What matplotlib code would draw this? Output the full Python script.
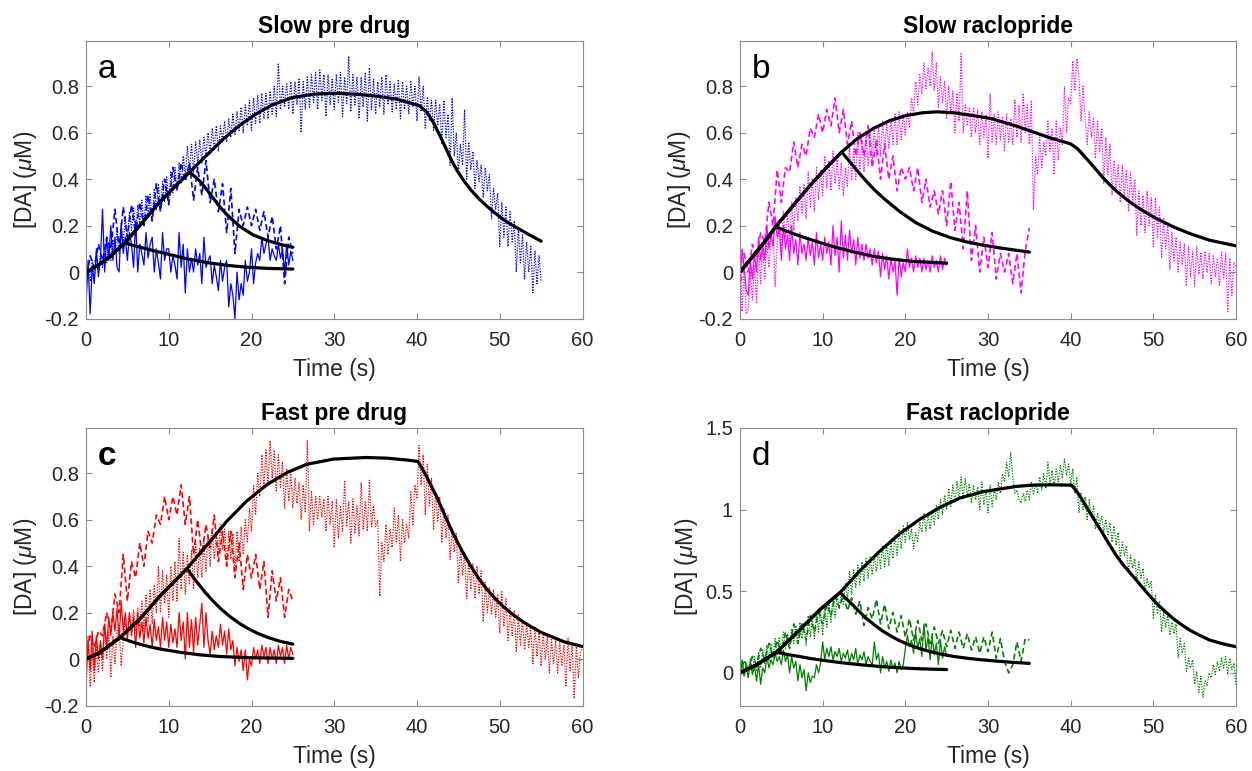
import numpy as np
import matplotlib
matplotlib.use("Agg")
import matplotlib.pyplot as plt

plt.rcParams['font.family'] = ['Liberation Sans', 'DejaVu Sans']
plt.rcParams['mathtext.fontset'] = 'custom'
plt.rcParams['mathtext.rm'] = 'Liberation Sans'
plt.rcParams['mathtext.it'] = 'Liberation Sans:italic'

DT_SOLID = 0.25
DT_DASH = 0.5
DT_DOT = 0.25

# ---------------- Panel a : Slow pre drug (blue) ----------------
A_SOLID = [-0.15, 0.05, -0.18, 0.02, -0.05, 0.10, -0.02, 0.06, 0.27, 0.00, 0.15, 0.05,
           0.20, 0.05, 0.15, 0.02, 0.00, 0.20, 0.08, 0.15, 0.05, 0.17, 0.12, 0.02,
           0.22, 0.00, 0.12, 0.08, 0.03, 0.17, 0.06, 0.12, 0.15, 0.00, 0.10, 0.04,
           -0.03, 0.17, 0.05, 0.10, 0.10, 0.00, 0.07, 0.03, -0.03, 0.17, 0.02, 0.12,
           -0.09, 0.10, 0.00, 0.06, 0.00, 0.10, 0.03, 0.08, -0.05, 0.15, 0.02, 0.05,
           0.07, -0.05, 0.03, -0.02, -0.08, 0.05, -0.04, 0.02, 0.05, -0.15, -0.05, -0.10,
           -0.20, 0.00, -0.12, -0.05, -0.10, 0.05, -0.04, 0.00, 0.10, -0.05, 0.04, 0.08,
           0.05, 0.15, 0.08, 0.12, 0.15, 0.05, 0.10, 0.07, 0.05, 0.12, 0.06, 0.10,
           0.00, 0.12, 0.03, 0.09, 0.05]
A_DASH = [-0.05, 0.07, 0.02, 0.12, 0.05, 0.15, 0.10, 0.27, 0.10, 0.28,
          0.15, 0.29, 0.16, 0.30, 0.20, 0.33, 0.22, 0.38, 0.26, 0.40,
          0.29, 0.45, 0.35, 0.47, 0.39, 0.47, 0.31, 0.45, 0.33, 0.48,
          0.30, 0.40, 0.26, 0.38, 0.17, 0.36, 0.08, 0.27, 0.20, 0.28,
          0.20, 0.27, 0.18, 0.26, 0.15, 0.24, 0.10, 0.20, -0.05, 0.15, 0.08]
A_DOT = [-0.08, 0.02, -0.04, 0.05, -0.03, 0.07, 0.00, 0.08, 0.02, 0.10, 0.04, 0.12,
         0.05, 0.14, 0.09, 0.18, 0.08, 0.21, 0.12, 0.24, 0.14, 0.26, 0.18, 0.28,
         0.16, 0.29, 0.21, 0.31, 0.20, 0.33, 0.24, 0.34, 0.22, 0.36, 0.27, 0.38,
         0.27, 0.39, 0.30, 0.41, 0.30, 0.43, 0.34, 0.45, 0.35, 0.47, 0.38, 0.50,
         0.41, 0.54, 0.44, 0.55, 0.43, 0.56, 0.47, 0.57, 0.47, 0.58, 0.50, 0.60,
         0.51, 0.62, 0.53, 0.63, 0.52, 0.63, 0.56, 0.65, 0.56, 0.66, 0.58, 0.68,
         0.59, 0.69, 0.61, 0.71, 0.60, 0.72, 0.63, 0.74, 0.61, 0.75, 0.64, 0.76,
         0.64, 0.77, 0.66, 0.77, 0.66, 0.78, 0.68, 0.80, 0.67, 0.90, 0.70, 0.80,
         0.71, 0.81, 0.70, 0.82, 0.68, 0.82, 0.72, 0.83, 0.60, 0.82, 0.70, 0.84,
         0.71, 0.85, 0.73, 0.86, 0.70, 0.87, 0.74, 0.85, 0.67, 0.85, 0.72, 0.83,
         0.70, 0.85, 0.73, 0.86, 0.67, 0.84, 0.72, 0.93, 0.69, 0.85, 0.72, 0.84,
         0.66, 0.84, 0.71, 0.86, 0.65, 0.88, 0.70, 0.83, 0.68, 0.82, 0.71, 0.84,
         0.68, 0.85, 0.72, 0.82, 0.69, 0.81, 0.70, 0.83, 0.66, 0.82, 0.70, 0.80,
         0.68, 0.82, 0.71, 0.80, 0.65, 0.84, 0.69, 0.80, 0.62, 0.75, 0.65, 0.74,
         0.61, 0.74, 0.63, 0.72, 0.55, 0.74, 0.58, 0.68, 0.46, 0.75, 0.50, 0.60,
         0.43, 0.55, 0.46, 0.70, 0.40, 0.56, 0.44, 0.52, 0.36, 0.48, 0.39, 0.46,
         0.32, 0.45, 0.35, 0.42, 0.23, 0.36, 0.27, 0.34, 0.11, 0.30, 0.15, 0.28,
         0.11, 0.26, 0.13, 0.22, 0.00, 0.19, 0.04, 0.16, -0.03, 0.13, 0.00, 0.11,
         -0.09, 0.09, -0.05, 0.07, -0.04]
A_FIT_LONG_T = [0, 1.5, 3, 4.7, 6.5, 8.5, 10.5, 12.5, 14.5, 16.5, 18.5, 20.5, 22.5, 25,
                27.5, 30, 32.5, 35, 37.5, 40.3, 41.2, 42, 42.8, 43.6, 44.2, 44.8, 45.6,
                46.5, 47.5, 48.5, 49.5, 50.5, 51.5, 52.5, 53.7, 55]
A_FIT_LONG_V = [0, 0.03, 0.07, 0.126, 0.2, 0.285, 0.36, 0.43, 0.5, 0.57, 0.63, 0.68,
                0.72, 0.752, 0.766, 0.77, 0.766, 0.758, 0.745, 0.716, 0.688, 0.643,
                0.585, 0.525, 0.479, 0.44, 0.396, 0.354, 0.315, 0.282, 0.252, 0.225,
                0.202, 0.182, 0.158, 0.133]
A_FIT_MED_T = [0, 1.5, 3, 4.7, 6.5, 8.5, 10.5, 12.5, 13.2, 13.8, 14.6, 15.4, 16.2, 17,
               18.6, 20.2, 21.9, 23.5, 25]
A_FIT_MED_V = [0, 0.03, 0.07, 0.126, 0.2, 0.285, 0.36, 0.43, 0.41, 0.39, 0.355, 0.317,
               0.28, 0.248, 0.196, 0.16, 0.136, 0.119, 0.107]
A_FIT_SHORT_T = [0, 1.5, 3, 4.7, 6, 7.3, 8.5, 9.8, 12.2, 14.6, 17, 19.4, 21.9, 25]
A_FIT_SHORT_V = [0, 0.03, 0.07, 0.126, 0.112, 0.1, 0.089, 0.078, 0.057, 0.041, 0.029,
                 0.021, 0.016, 0.013]

# ---------------- Panel b : Slow raclopride (magenta) ----------------
B_SOLID = [-0.05, 0.10, 0.02, -0.08, -0.10, 0.05, -0.03, 0.08, 0.00, 0.15, 0.05, 0.12,
           0.05, 0.20, 0.10, 0.16, 0.11, 0.24, 0.15, 0.20, 0.05, 0.20, 0.10, 0.16,
           0.05, 0.20, 0.08, 0.14, 0.03, 0.17, 0.08, 0.12, 0.05, 0.15, 0.07, 0.13,
           0.03, 0.17, 0.06, 0.12, 0.05, 0.15, 0.08, 0.13, 0.03, 0.20, 0.07, 0.15,
           0.00, 0.22, 0.06, 0.16, 0.05, 0.18, 0.08, 0.14, 0.03, 0.15, 0.06, 0.12,
           0.05, 0.12, 0.06, 0.10, 0.03, 0.10, 0.04, 0.09, -0.02, 0.08, 0.01, 0.07,
           -0.03, 0.06, 0.00, 0.05, -0.10, 0.06, -0.02, 0.04, 0.00, 0.10, 0.02, 0.06,
           0.00, 0.07, 0.02, 0.06, 0.00, 0.06, 0.01, 0.05, 0.00, 0.07, 0.02, 0.05,
           0.00, 0.07, 0.01, 0.06, 0.03]
B_DASH = [-0.08, 0.08, 0.00, 0.12, 0.06, 0.17, 0.13, 0.30, 0.20, 0.44,
          0.30, 0.45, 0.43, 0.56, 0.45, 0.55, 0.50, 0.62, 0.58, 0.68,
          0.60, 0.70, 0.63, 0.75, 0.60, 0.70, 0.55, 0.65, 0.50, 0.60,
          0.50, 0.63, 0.45, 0.57, 0.40, 0.55, 0.40, 0.50, 0.35, 0.45,
          0.40, 0.45, 0.35, 0.45, 0.30, 0.40, 0.28, 0.35, 0.25, 0.35,
          0.20, 0.39, 0.18, 0.30, 0.10, 0.35, 0.05, 0.20, 0.00, 0.15,
          0.02, 0.17, -0.03, 0.08, 0.00, 0.08, -0.05, 0.08, -0.09, 0.09, 0.19]
B_DOT = [0.05, -0.17, 0.02, -0.18, -0.16, 0.00, -0.12, 0.03, -0.13, 0.11, -0.05, 0.12,
         -0.03, 0.14, 0.02, 0.15, 0.17, -0.06, 0.12, 0.20, 0.11, 0.26, 0.15, 0.27,
         0.11, 0.30, 0.18, 0.32, 0.22, 0.37, 0.25, 0.38, 0.23, 0.43, 0.28, 0.40,
         0.26, 0.45, 0.31, 0.44, 0.33, 0.50, 0.36, 0.48, 0.35, 0.52, 0.38, 0.49,
         0.36, 0.47, 0.33, 0.45, 0.37, 0.55, 0.40, 0.53, 0.40, 0.60, 0.44, 0.57,
         0.43, 0.58, 0.46, 0.60, 0.48, 0.62, 0.50, 0.63, 0.50, 0.65, 0.53, 0.64,
         0.53, 0.66, 0.55, 0.68, 0.55, 0.69, 0.57, 0.68, 0.59, 0.69, 0.62, 0.75,
         0.69, 0.82, 0.72, 0.85, 0.77, 0.90, 0.79, 0.88, 0.80, 0.95, 0.78, 0.90,
         0.71, 0.84, 0.73, 0.82, 0.66, 0.80, 0.68, 0.78, 0.60, 0.77, 0.65, 0.94,
         0.60, 0.72, 0.63, 0.71, 0.58, 0.71, 0.60, 0.70, 0.55, 0.69, 0.58, 0.68,
         0.49, 0.77, 0.56, 0.68, 0.55, 0.69, 0.57, 0.67, 0.52, 0.68, 0.56, 0.66,
         0.55, 0.74, 0.58, 0.72, 0.56, 0.77, 0.60, 0.72, 0.55, 0.74, 0.27, 0.50,
         0.42, 0.58, 0.45, 0.56, 0.50, 0.65, 0.52, 0.62, 0.42, 0.65, 0.48, 0.62,
         0.55, 0.80, 0.60, 0.75, 0.72, 0.91, 0.78, 0.92, 0.84, 0.65, 0.80, 0.66,
         0.55, 0.69, 0.58, 0.66, 0.49, 0.65, 0.52, 0.62, 0.38, 0.58, 0.42, 0.55,
         0.33, 0.48, 0.36, 0.46, 0.30, 0.46, 0.33, 0.44, 0.26, 0.43, 0.30, 0.40,
         0.16, 0.35, 0.20, 0.33, 0.17, 0.35, 0.20, 0.32, 0.11, 0.32, 0.15, 0.28,
         0.06, 0.23, 0.10, 0.21, 0.01, 0.17, 0.05, 0.15, 0.00, 0.13, 0.03, 0.12,
         -0.06, 0.11, -0.02, 0.09, -0.06, 0.11, -0.01, 0.08, -0.03, 0.09, 0.00, 0.08,
         -0.05, 0.07, -0.02, 0.06, -0.06, 0.09, -0.03, 0.08, -0.17, 0.06, -0.10, 0.04,
         0.02]
B_FIT_LONG_T = [0, 1.6, 3.2, 4.3, 6.4, 8.4, 10.4, 12.3, 14.1, 16.1, 18.1, 20.1, 22.1, 23.8,
                25.8, 28.2, 30.5, 33.4, 35.4, 37.5, 40, 40.8, 41.5, 42.3, 43.1, 43.9,
                44.7, 45.5, 46.3, 47.3, 48.3, 49.3, 50.4, 52.4, 54.4, 56.8, 60]
B_FIT_LONG_V = [0, 0.07, 0.14, 0.195, 0.285, 0.37, 0.448, 0.517, 0.572, 0.618, 0.652, 0.674,
                0.686, 0.69, 0.686, 0.674, 0.66, 0.629, 0.604, 0.578, 0.552, 0.532, 0.505,
                0.473, 0.44, 0.407, 0.377, 0.35, 0.326, 0.298, 0.274, 0.252, 0.23, 0.195,
                0.166, 0.137, 0.113]
B_FIT_MED_T = [0, 1.6, 3.2, 4.3, 6.4, 8.4, 10.4, 12.3, 13, 13.7, 14.5, 15.3, 16.3, 17.3,
               19.3, 21.3, 23.3, 25.4, 27.4, 29.4, 31.4, 33.4, 35]
B_FIT_MED_V = [0, 0.07, 0.14, 0.195, 0.285, 0.37, 0.448, 0.517, 0.487, 0.457, 0.423, 0.39,
               0.353, 0.32, 0.261, 0.212, 0.176, 0.149, 0.13, 0.116, 0.104, 0.094, 0.086]
B_FIT_SHORT_T = [0, 1.6, 3.2, 4.3, 5.3, 6.4, 7.6, 8.8, 11.3, 13.7, 16.1, 18.5, 20.9, 25]
B_FIT_SHORT_V = [0, 0.07, 0.14, 0.195, 0.181, 0.166, 0.151, 0.137, 0.109, 0.087, 0.068,
                 0.055, 0.046, 0.038]

# ---------------- Panel c : Fast pre drug (red) ----------------
C_SOLID = [-0.10, 0.08, -0.05, 0.12, -0.05, 0.10, 0.00, 0.08, 0.00, 0.15, 0.05, 0.18,
           0.10, 0.20, 0.12, 0.22, 0.08, 0.25, 0.12, 0.20, 0.08, 0.20, 0.10, 0.18,
           0.05, 0.20, 0.09, 0.16, 0.07, 0.18, 0.09, 0.15, 0.05, 0.17, 0.08, 0.14,
           0.05, 0.18, 0.08, 0.16, 0.05, 0.15, 0.07, 0.13, 0.05, 0.20, 0.08, 0.16,
           0.00, 0.20, 0.05, 0.17, 0.03, 0.18, 0.06, 0.15, 0.24, 0.05, 0.20, 0.08,
           0.02, 0.12, 0.04, 0.10, 0.05, 0.15, 0.06, 0.12, 0.02, 0.13, 0.04, 0.08,
           -0.03, 0.05, -0.01, 0.04, -0.05, 0.04, -0.09, 0.00, -0.03, 0.05, 0.00, 0.04,
           -0.02, 0.06, 0.01, 0.05, -0.02, 0.05, 0.00, 0.04, -0.02, 0.06, 0.01, 0.05,
           -0.02, 0.06, 0.00, 0.05, 0.02]
C_DASH = [0.00, 0.10, 0.05, 0.12, 0.10, 0.20, 0.12, 0.28, 0.20, 0.45,
          0.25, 0.42, 0.35, 0.50, 0.40, 0.55, 0.50, 0.62, 0.58, 0.70,
          0.60, 0.70, 0.62, 0.75, 0.58, 0.70, 0.45, 0.60, 0.45, 0.58,
          0.48, 0.62, 0.42, 0.55, 0.40, 0.55, 0.35, 0.50, 0.30, 0.45,
          0.35, 0.45, 0.30, 0.42, 0.18, 0.38, 0.25, 0.35, 0.18, 0.30, 0.25]
C_DOT = [-0.16, 0.10, -0.12, 0.05, -0.10, 0.05, -0.06, 0.06, -0.05, 0.15, 0.00, 0.12,
         -0.08, 0.10, -0.02, 0.12, 0.15, -0.03, 0.08, 0.16, 0.10, 0.20, 0.12, 0.21,
         0.12, 0.22, 0.14, 0.25, 0.12, 0.28, 0.16, 0.30, 0.15, 0.32, 0.20, 0.40,
         0.20, 0.38, 0.24, 0.36, 0.18, 0.40, 0.25, 0.42, 0.25, 0.52, 0.30, 0.46,
         0.28, 0.45, 0.32, 0.47, 0.30, 0.50, 0.35, 0.48, 0.35, 0.50, 0.38, 0.53,
         0.40, 0.56, 0.43, 0.55, 0.45, 0.58, 0.47, 0.56, 0.40, 0.55, 0.43, 0.54,
         0.38, 0.55, 0.42, 0.57, 0.45, 0.60, 0.50, 0.65, 0.55, 0.75, 0.62, 0.80,
         0.70, 0.88, 0.74, 0.90, 0.75, 0.94, 0.78, 0.90, 0.72, 0.88, 0.74, 0.85,
         0.65, 0.82, 0.68, 0.80, 0.65, 0.78, 0.67, 0.76, 0.60, 0.75, 0.63, 0.94,
         0.55, 0.72, 0.58, 0.70, 0.60, 0.70, 0.61, 0.69, 0.55, 0.70, 0.58, 0.68,
         0.48, 0.69, 0.52, 0.66, 0.55, 0.77, 0.57, 0.68, 0.50, 0.69, 0.54, 0.66,
         0.53, 0.76, 0.56, 0.68, 0.55, 0.77, 0.57, 0.66, 0.57, 0.60, 0.27, 0.50,
         0.42, 0.58, 0.45, 0.56, 0.48, 0.65, 0.50, 0.62, 0.42, 0.60, 0.50, 0.58,
         0.52, 0.72, 0.58, 0.75, 0.69, 0.92, 0.75, 0.88, 0.62, 0.84, 0.66, 0.78,
         0.56, 0.72, 0.59, 0.70, 0.50, 0.65, 0.52, 0.62, 0.43, 0.56, 0.46, 0.54,
         0.33, 0.48, 0.36, 0.46, 0.26, 0.43, 0.30, 0.41, 0.26, 0.40, 0.28, 0.38,
         0.16, 0.33, 0.20, 0.31, 0.19, 0.30, 0.18, 0.28, 0.11, 0.29, 0.14, 0.26,
         0.08, 0.22, 0.10, 0.21, 0.03, 0.19, 0.06, 0.17, 0.04, 0.16, 0.05, 0.14,
         -0.02, 0.14, 0.01, 0.12, -0.03, 0.11, 0.00, 0.10, -0.06, 0.09, -0.02, 0.08,
         -0.06, 0.07, -0.03, 0.06, -0.12, 0.09, -0.05, 0.07, -0.17, 0.06, -0.08, 0.03,
         0.05]
C_FIT_LONG_T = [0, 1.7, 4.1, 6.5, 9, 11.4, 12.2, 14.6, 17, 19.4, 21.9, 24.3, 26.7, 29.9,
                31.5, 33.9, 36.4, 38.8, 40.1, 40.6, 41.2, 41.8, 42.4, 43, 43.6, 44.2,
                44.8, 45.6, 46.5, 47.5, 48.5, 49.5, 50.5, 51.5, 52.5, 53.7, 55, 57.8, 60]
C_FIT_LONG_V = [0, 0.028, 0.093, 0.172, 0.274, 0.36, 0.39, 0.49, 0.593, 0.68, 0.752,
                0.803, 0.839, 0.861, 0.864, 0.868, 0.865, 0.857, 0.851, 0.822, 0.783,
                0.74, 0.697, 0.648, 0.6, 0.553, 0.51, 0.455, 0.4, 0.345, 0.298, 0.258,
                0.224, 0.194, 0.168, 0.141, 0.115, 0.074, 0.054]
C_FIT_MED_T = [0, 1.7, 4.1, 6.5, 9, 11.4, 12.2, 12.8, 13.4, 14.4, 15.4, 16.4, 17.4, 18.4,
               19.4, 20.6, 21.9, 23.4, 25]
C_FIT_MED_V = [0, 0.028, 0.093, 0.172, 0.274, 0.36, 0.39, 0.36, 0.332, 0.287, 0.248,
               0.213, 0.183, 0.157, 0.135, 0.113, 0.094, 0.077, 0.064]
C_FIT_SHORT_T = [0, 1.7, 4.1, 5.3, 6.5, 7.8, 9, 11.4, 13.8, 16.2, 19.4, 25]
C_FIT_SHORT_V = [0, 0.028, 0.093, 0.077, 0.064, 0.052, 0.043, 0.029, 0.018, 0.011, 0.006, 0.003]

# ---------------- Panel d : Fast raclopride (green) ----------------
D_SOLID = [-0.05, 0.08, -0.02, 0.05, -0.03, 0.07, -0.01, 0.04, -0.05, 0.05, -0.07, 0.03,
           0.00, 0.10, 0.03, 0.08, 0.05, 0.12, 0.07, 0.10, 0.05, 0.14, 0.07, 0.11,
           0.00, 0.10, 0.03, 0.07, -0.05, 0.05, -0.03, 0.02, -0.11, 0.00, -0.06, -0.02,
           -0.03, 0.05, 0.00, 0.06, 0.19, 0.08, 0.15, 0.10, 0.16, 0.08, 0.13, 0.10,
           0.15, 0.07, 0.12, 0.09, 0.14, 0.06, 0.12, 0.08, 0.15, 0.05, 0.11, 0.08,
           0.13, 0.05, 0.10, 0.07, 0.05, 0.19, 0.08, 0.12, 0.00, 0.10, 0.03, 0.07,
           0.01, 0.08, 0.03, 0.06, 0.00, 0.07, 0.02, 0.05, 0.15, 0.23, 0.16, 0.20,
           0.12, 0.25, 0.15, 0.21, 0.10, 0.30, 0.14, 0.22, 0.08, 0.22, 0.11, 0.18,
           0.05, 0.20, 0.09, 0.16, 0.10]
D_DASH = [-0.02, 0.08, 0.02, 0.10, 0.05, 0.15, 0.08, 0.18, 0.10, 0.20,
          0.12, 0.25, 0.15, 0.30, 0.18, 0.30, 0.20, 0.35, 0.25, 0.37,
          0.30, 0.42, 0.35, 0.47, 0.40, 0.48, 0.38, 0.46, 0.36, 0.44,
          0.29, 0.40, 0.33, 0.45, 0.30, 0.42, 0.27, 0.37, 0.25, 0.35,
          0.22, 0.33, 0.20, 0.32, 0.20, 0.30, 0.18, 0.28, 0.18, 0.26,
          0.16, 0.26, 0.15, 0.25, 0.15, 0.24, 0.14, 0.22, 0.12, 0.22,
          0.13, 0.25, 0.09, 0.21, 0.07, 0.00, 0.05, 0.19, 0.07, 0.21, 0.20]
D_DOT = [-0.05, 0.07, -0.02, 0.06, -0.03, 0.09, 0.00, 0.10, 0.01, 0.13, 0.03, 0.14,
         0.05, 0.17, 0.07, 0.18, 0.09, 0.21, 0.11, 0.22, 0.13, 0.25, 0.15, 0.24,
         0.17, 0.27, 0.18, 0.29, 0.19, 0.31, 0.21, 0.30, 0.17, 0.35, 0.22, 0.34,
         0.21, 0.37, 0.25, 0.38, 0.23, 0.41, 0.28, 0.43, 0.31, 0.45, 0.34, 0.47,
         0.39, 0.50, 0.42, 0.55, 0.45, 0.62, 0.48, 0.63, 0.52, 0.66, 0.54, 0.68,
         0.56, 0.70, 0.58, 0.71, 0.60, 0.72, 0.62, 0.75, 0.64, 0.78, 0.65, 0.79,
         0.66, 0.80, 0.70, 0.84, 0.72, 0.88, 0.76, 0.90, 0.80, 0.92, 0.82, 0.88,
         0.76, 0.86, 0.80, 0.92, 0.86, 0.98, 0.87, 0.97, 0.88, 1.00, 0.91, 1.03,
         0.94, 1.06, 0.97, 1.09, 1.00, 1.13, 1.02, 1.15, 1.04, 1.17, 1.06, 1.20,
         1.06, 1.19, 1.08, 1.16, 1.04, 1.15, 1.06, 1.14, 1.00, 1.17, 1.03, 1.12,
         0.98, 1.15, 1.02, 1.13, 1.06, 1.17, 1.10, 1.22, 1.17, 1.29, 1.20, 1.35,
         1.20, 1.10, 1.12, 1.06, 1.04, 1.10, 1.05, 1.12, 1.06, 1.17, 1.09, 1.16,
         1.10, 1.20, 1.12, 1.22, 1.13, 1.29, 1.16, 1.24, 1.15, 1.25, 1.17, 1.27,
         1.19, 1.31, 1.21, 1.28, 1.15, 1.25, 1.10, 1.20, 0.98, 1.10, 1.00, 1.08,
         0.94, 1.06, 0.95, 1.02, 0.88, 0.98, 0.90, 0.96, 0.86, 0.94, 0.84, 0.92,
         0.80, 0.90, 0.78, 0.86, 0.70, 0.80, 0.72, 0.78, 0.62, 0.72, 0.64, 0.70,
         0.56, 0.68, 0.58, 0.64, 0.50, 0.58, 0.52, 0.56, 0.33, 0.48, 0.36, 0.44,
         0.25, 0.37, 0.28, 0.35, 0.23, 0.31, 0.24, 0.30, 0.09, 0.21, 0.12, 0.18,
         0.01, 0.09, 0.03, 0.08, -0.07, 0.01, -0.12, -0.02, -0.15, -0.05, -0.08, 0.00,
         -0.03, 0.05, -0.01, 0.07, 0.01, 0.09, 0.03, 0.10, -0.01, 0.09, 0.02, 0.06,
         -0.08]
D_FIT_LONG_T = [0, 2, 4.4, 7.2, 9.6, 12.1, 14.5, 16.9, 19.3, 21.7, 24.2, 26.6, 29.4, 31.4,
                33.4, 35.4, 37.5, 40.1, 40.6, 41.1, 41.7, 42.3, 43.1, 43.9, 44.7, 45.5,
                46.3, 47.1, 48, 48.8, 49.6, 50.4, 51.4, 52.4, 53.4, 54.4, 55.6, 56.8,
                58.4, 60]
D_FIT_LONG_V = [0, 0.049, 0.126, 0.262, 0.384, 0.492, 0.625, 0.745, 0.852, 0.939, 1.014,
                1.071, 1.11, 1.126, 1.142, 1.15, 1.152, 1.15, 1.12, 1.085, 1.035, 0.984,
                0.918, 0.852, 0.785, 0.72, 0.665, 0.618, 0.565, 0.516, 0.47, 0.425,
                0.377, 0.333, 0.295, 0.262, 0.23, 0.201, 0.178, 0.16]
D_FIT_MED_T = [0, 2, 4.4, 7.2, 9.6, 12.1, 12.9, 13.7, 14.5, 15.3, 16.3, 17.3, 18.3, 19.3,
               20.5, 21.7, 23, 24.2, 25.8, 27.4, 29, 30.6, 32.8, 35]
D_FIT_MED_V = [0, 0.049, 0.126, 0.262, 0.384, 0.492, 0.452, 0.413, 0.372, 0.333, 0.292,
               0.255, 0.224, 0.197, 0.171, 0.149, 0.13, 0.116, 0.101, 0.09, 0.081, 0.074,
               0.065, 0.058]
D_FIT_SHORT_T = [0, 2, 4.4, 5.8, 7.2, 8.4, 9.6, 12.1, 14.5, 16.9, 19.3, 21.7, 25]
D_FIT_SHORT_V = [0, 0.049, 0.126, 0.112, 0.1, 0.089, 0.08, 0.063, 0.05, 0.039, 0.031,
                 0.025, 0.02]

TITLES = ["Slow pre drug", "Slow raclopride", "Fast pre drug", "Fast raclopride"]
LETTERS = ["a", "b", "c", "d"]
COLORS = ["#0000FF", "#FF00FF", "#FF0000", "#008000"]
XTICKS = [0, 10, 20, 30, 40, 50, 60]
YTICKS_SMALL = [-0.2, 0, 0.2, 0.4, 0.6, 0.8]
YTICKLABELS_SMALL = ["-0.2", "0", "0.2", "0.4", "0.6", "0.8"]
YTICKS_D = [0, 0.5, 1, 1.5]
YTICKLABELS_D = ["0", "0.5", "1", "1.5"]

W, H = 1252, 771
fig = plt.figure(figsize=(W / 100, H / 100), dpi=100)

boxes = [(86, 41, 496.5, 277.5), (740, 41, 496, 277.5),
         (86, 428, 496.5, 277.5), (740, 428, 496, 277.5)]

panels = [
    (A_SOLID, A_DASH, A_DOT, (A_FIT_LONG_T, A_FIT_LONG_V), (A_FIT_MED_T, A_FIT_MED_V), (A_FIT_SHORT_T, A_FIT_SHORT_V)),
    (B_SOLID, B_DASH, B_DOT, (B_FIT_LONG_T, B_FIT_LONG_V), (B_FIT_MED_T, B_FIT_MED_V), (B_FIT_SHORT_T, B_FIT_SHORT_V)),
    (C_SOLID, C_DASH, C_DOT, (C_FIT_LONG_T, C_FIT_LONG_V), (C_FIT_MED_T, C_FIT_MED_V), (C_FIT_SHORT_T, C_FIT_SHORT_V)),
    (D_SOLID, D_DASH, D_DOT, (D_FIT_LONG_T, D_FIT_LONG_V), (D_FIT_MED_T, D_FIT_MED_V), (D_FIT_SHORT_T, D_FIT_SHORT_V)),
]

frame_col = "#8c8c8c"
text_col = "#262626"

for i, (box, pdata) in enumerate(zip(boxes, panels)):
    x0, y0, w, h = box
    ax = fig.add_axes([x0 / W, 1 - (y0 + h) / H, w / W, h / H])
    solid, dash, dot, fl, fm, fs = pdata
    col = COLORS[i]
    t_s = np.arange(len(solid)) * DT_SOLID
    t_d = np.arange(len(dash)) * DT_DASH
    t_o = np.arange(len(dot)) * DT_DOT
    ax.plot(t_s, solid, color=col, lw=0.9, ls='-')
    ax.plot(t_d, dash, color=col, lw=1.2, ls=(0, (3.5, 2.0)))
    ax.plot(t_o, dot, color=col, lw=0.9, ls=(0, (1.0, 1.2)))
    for ft, fv in (fl, fm, fs):
        ax.plot(ft, fv, color='black', lw=2.3, solid_capstyle='round', solid_joinstyle='round')

    ax.set_xlim(0, 60)
    ax.set_xticks(XTICKS)
    ax.set_xticklabels([str(v) for v in XTICKS])
    if i == 3:
        ax.set_ylim(-0.2, 1.5)
        ax.set_yticks(YTICKS_D)
        ax.set_yticklabels(YTICKLABELS_D)
    else:
        ax.set_ylim(-0.2, 0.995)
        ax.set_yticks(YTICKS_SMALL)
        ax.set_yticklabels(YTICKLABELS_SMALL)

    for sp in ax.spines.values():
        sp.set_color(frame_col)
        sp.set_linewidth(0.8)
    ax.tick_params(axis='both', direction='in', top=True, right=True,
                   length=4.5, width=0.8, color=frame_col, labelcolor=text_col,
                   labelsize=14.5)
    ax.tick_params(axis='x', pad=9)
    ax.tick_params(axis='y', pad=5)

    ax.set_xlabel("Time (s)", fontsize=16.5, color=text_col, labelpad=6)
    ax.set_ylabel("[DA] ($\\mu$M)", fontsize=16.5, color=text_col, labelpad=4)
    ax.set_title(TITLES[i], fontsize=16.5, fontweight='bold', color='black', pad=6)
    ax.text(0.024, 0.866, LETTERS[i], transform=ax.transAxes, fontsize=24,
            fontweight='bold' if LETTERS[i] == 'c' else 'normal',
            color='black', va='baseline', ha='left')

fig.savefig("out.png", dpi=100)
